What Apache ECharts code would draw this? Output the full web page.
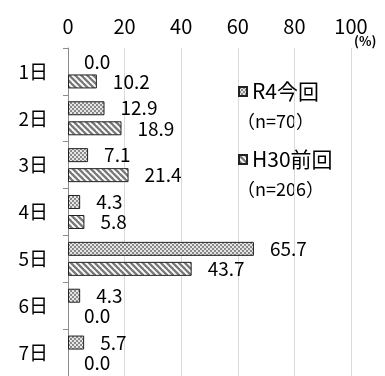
<!DOCTYPE html>
<html><head><meta charset="utf-8">
<script src="https://cdn.jsdelivr.net/npm/echarts@6/dist/echarts.min.js"></script>
<style>html,body{margin:0;padding:0;background:#fff}#c{width:385px;height:376px}</style>
</head><body><div id="c"></div>
<script>
var categories = ['1日','2日','3日','4日','5日','6日','7日'];
var r4Values = [0.0, 12.9, 7.1, 4.3, 65.7, 4.3, 5.7];
var h30Values = [10.2, 18.9, 21.4, 5.8, 43.7, 0.0, 0.0];
var seriesNames = ['R4今回', 'H30前回'];
var sampleNotes = ['（n=70）', '（n=206）'];
var xTicks = [0, 20, 40, 60, 80, 100];

function checker() {
  var c = document.createElement('canvas'); c.width = 4; c.height = 4;
  var g = c.getContext('2d');
  g.fillStyle = '#e6e6e6'; g.fillRect(0,0,4,4);
  g.fillStyle = '#8a8a8a';
  g.fillRect(0,0,2,2); g.fillRect(2,2,2,2);
  return c;
}
function stripes() {
  var c = document.createElement('canvas'); c.width = 6; c.height = 6;
  var g = c.getContext('2d');
  g.fillStyle = '#ffffff'; g.fillRect(0,0,6,6);
  g.strokeStyle = '#7a7a7a'; g.lineWidth = 2.4;
  for (var o = -6; o <= 6; o += 6) {
    g.beginPath(); g.moveTo(o - 1, -1); g.lineTo(o + 7, 7); g.stroke();
  }
  return c;
}
function items(vals) {
  return vals.map(function(v){
    return v === 0 ? {value: v, itemStyle: {borderWidth: 0}} : v;
  });
}
var font = '"Noto Sans CJK JP", "Noto Sans", sans-serif';
var chart = echarts.init(document.getElementById('c'), null, {renderer: 'canvas'});
var labelCfg = {show: true, position: 'right', distance: 16, color: '#000', fontSize: 19, fontFamily: font,
  formatter: function(p){ return Number(p.value).toFixed(1); }};
chart.setOption({
  animation: false,
  grid: {left: 68, right: 34, top: 48, height: 329},
  xAxis: {
    type: 'value', position: 'top', min: xTicks[0], max: xTicks[xTicks.length-1], interval: 20,
    axisLine: {show: false}, axisTick: {show: false},
    axisLabel: {color: '#000', fontSize: 20, fontFamily: font, margin: 12},
    splitLine: {lineStyle: {color: '#d9d9d9', width: 1}}
  },
  yAxis: {
    type: 'category', data: categories, inverse: true,
    axisLine: {show: true, lineStyle: {color: '#8c8c8c', width: 1}},
    axisTick: {show: true, length: 5, lineStyle: {color: '#8c8c8c'}},
    axisLabel: {color: '#000', fontSize: 19, fontFamily: font, margin: 20}
  },
  legend: [
    {data: [seriesNames[0]], icon: 'rect', orient: 'vertical', left: 233, top: 76, itemWidth: 8, itemHeight: 9, itemGap: 6,
     textStyle: {color: '#000', fontSize: 21, fontFamily: font}, selectedMode: false},
    {data: [seriesNames[1]], icon: 'rect', orient: 'vertical', left: 233, top: 144, itemWidth: 8, itemHeight: 9, itemGap: 6,
     textStyle: {color: '#000', fontSize: 21, fontFamily: font}, selectedMode: false}
  ],
  graphic: [
    {type: 'text', left: 237, top: 112, style: {text: sampleNotes[0], fill: '#000', fontSize: 18, fontFamily: font}},
    {type: 'text', left: 237, top: 180, style: {text: sampleNotes[1], fill: '#000', fontSize: 18, fontFamily: font}},
    {type: 'text', left: 354, top: 35, style: {text: '(%)', fill: '#000', fontSize: 13, fontWeight: 'bold', fontFamily: font}}
  ],
  series: [
    {name: seriesNames[0], type: 'bar', data: items(r4Values), barWidth: 14, barGap: '43%',
     itemStyle: {color: {image: checker(), repeat: 'repeat'}, borderColor: '#222', borderWidth: 1},
     label: labelCfg},
    {name: seriesNames[1], type: 'bar', data: items(h30Values), barWidth: 14,
     itemStyle: {color: {image: stripes(), repeat: 'repeat'}, borderColor: '#222', borderWidth: 1},
     label: labelCfg}
  ]
});
</script></body></html>
